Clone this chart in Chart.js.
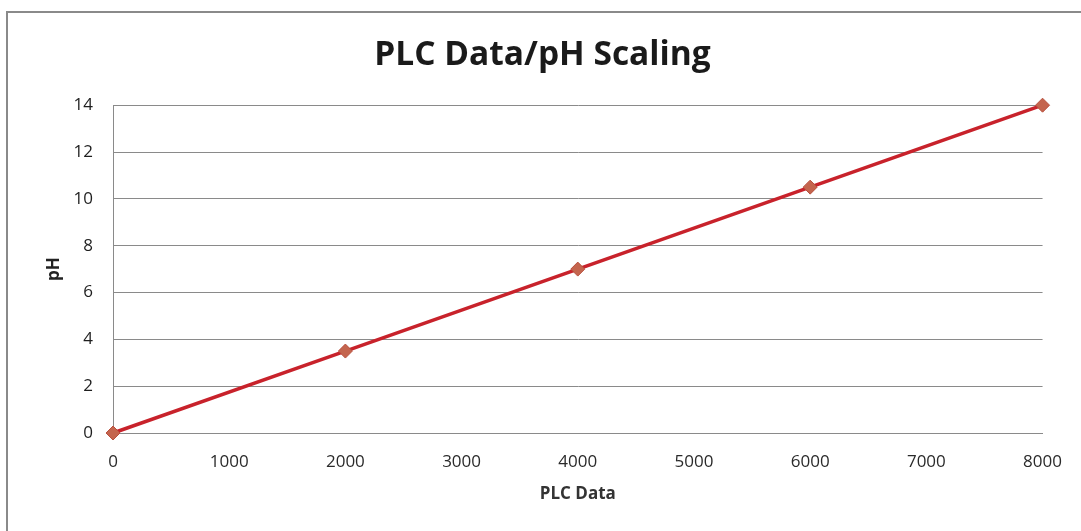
<!DOCTYPE html>
<html>
<head>
<meta charset="utf-8">
<script src="https://cdn.jsdelivr.net/npm/chart.js@4/dist/chart.umd.min.js"></script>
<style>
  html, body { margin: 0; padding: 0; background: #fff; }
  #wrap { width: 1081px; height: 531px; }
</style>
</head>
<body>
<div id="wrap"><canvas id="plc"></canvas></div>
<script>
// PLC counts vs. pH
const plcData = [0, 2000, 4000, 6000, 8000]
const phValues = [0, 3.5, 7, 10.5, 14]
const xTicks = [0, 1000, 2000, 3000, 4000, 5000, 6000, 7000, 8000]
const yTicks = [0, 2, 4, 6, 8, 10, 12, 14]

const points = plcData.map((x, i) => ({x: x, y: phValues[i]}))

// scanned chart frame (left + top edge)
const framePlugin = {
  id: 'frame',
  beforeDraw(chart) {
    const c = chart.ctx
    c.save()
    c.fillStyle = '#fff'
    c.fillRect(0, 0, chart.width, chart.height)
    c.strokeStyle = '#8a8a8a'
    c.lineWidth = 2
    c.beginPath()
    c.moveTo(7, chart.height)
    c.lineTo(7, 12)
    c.lineTo(chart.width, 12)
    c.stroke()
    c.restore()
  }
}

const ctx = document.getElementById('plc').getContext('2d')
new Chart(ctx, {
  type: 'scatter',
  data: {
    datasets: [{
      label: 'pH',
      data: points,
      showLine: true,
      clip: false,
      borderColor: '#c8222b',
      borderWidth: 3.5,
      pointStyle: 'rectRot',
      pointRadius: 7,
      pointBackgroundColor: '#c4654e',
      pointBorderColor: '#b9503e',
      pointBorderWidth: 1
    }]
  },
  options: {
    responsive: true,
    maintainAspectRatio: false,
    animation: false,
    layout: { padding: { left: 40, right: 36, top: 0, bottom: 23 } },
    plugins: {
      legend: { display: false },
      tooltip: { enabled: false },
      title: {
        display: true,
        text: 'PLC Data/pH Scaling',
        color: '#1a1a1a',
        font: { family: 'Open Sans', size: 33.5, weight: 'bold' },
        padding: { top: 35, bottom: 30 }
      }
    },
    scales: {
      x: {
        type: 'linear',
        min: 0,
        max: 8000,
        afterBuildTicks: (s) => { s.ticks = xTicks.map(v => ({value: v})) },
        afterFit: (s) => { s.height = 75 },
        grid: { display: false, drawTicks: false },
        border: { display: true, color: '#8a8a8a', width: 1 },
        ticks: {
          padding: 19,
          color: '#2a2a2a',
          font: { family: 'Open Sans', size: 17 },
          callback: (v) => String(v)
        },
        title: {
          display: true,
          text: 'PLC Data',
          color: '#333',
          font: { family: 'Open Sans', size: 17, weight: 'bold' }
        }
      },
      y: {
        min: 0,
        max: 14,
        afterBuildTicks: (s) => { s.ticks = yTicks.map(v => ({value: v})) },
        afterFit: (s) => { s.width = 73 },
        grid: { color: '#8a8a8a', lineWidth: 1, drawTicks: false },
        border: { display: true, color: '#8a8a8a', width: 1 },
        ticks: {
          padding: 20,
          color: '#1e1e1e',
          font: { family: 'Open Sans', size: 17 },
          callback: (v) => String(v)
        },
        title: {
          display: true,
          text: 'pH',
          color: '#222',
          font: { family: 'Open Sans', size: 17, weight: 'bold' }
        }
      }
    }
  },
  plugins: [framePlugin]
})
</script>
</body>
</html>
